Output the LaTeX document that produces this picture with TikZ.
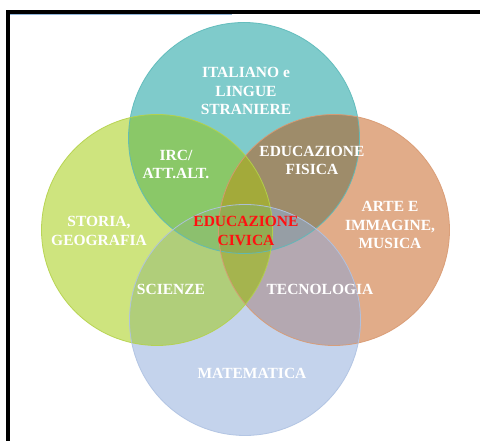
\documentclass[tikz,border=0pt]{standalone}
\usepackage{fontspec}
\setmainfont{Liberation Serif}
\definecolor{cT}{HTML}{7FCBCB}
\definecolor{cG}{HTML}{CEE47E}
\definecolor{cO}{HTML}{E1AC89}
\definecolor{cB}{HTML}{C4D3EC}
\definecolor{cTG}{HTML}{8AC868}
\definecolor{cTO}{HTML}{9E8C6A}
\definecolor{cTB}{HTML}{8FB8C8}
\definecolor{cGO}{HTML}{A0B44B}
\definecolor{cGB}{HTML}{B0CE7A}
\definecolor{cOB}{HTML}{B4A8B1}
\definecolor{cTGO}{HTML}{A3AA3A}
\definecolor{cTGB}{HTML}{8CC06E}
\definecolor{cTOB}{HTML}{969EA5}
\definecolor{cGOB}{HTML}{A5B44E}
\definecolor{cTGOB}{HTML}{93AC52}
\definecolor{eT}{HTML}{5CBABA}
\definecolor{eG}{HTML}{B4D24A}
\definecolor{eO}{HTML}{D99A72}
\definecolor{eB}{HTML}{AFC2E2}
\definecolor{topblue}{HTML}{8FB4D9}
\definecolor{civred}{HTML}{FF1010}
\def\pT{(244,303) circle (115.5)}
\def\pG{(157,211) circle (115.5)}
\def\pO{(334,211) circle (115.5)}
\def\pB{(245,121) circle (115.5)}
\tikzset{
  lbl/.style={text=white, font=\fontsize{15.5}{18.5}\selectfont\bfseries, align=center, inner sep=0pt},
  redlbl/.style={lbl, text=civred},
  edge/.style={line width=0.8pt, draw opacity=0.9}
}
\begin{document}
\begin{tikzpicture}[x=1pt,y=1pt]
\useasboundingbox (0,0) rectangle (480,441);
\fill[white] (0,0) rectangle (480,441);
% single circles
\fill[cT] \pT; \fill[cG] \pG; \fill[cO] \pO; \fill[cB] \pB;
% pairs
\begin{scope}\clip \pT; \fill[cTG] \pG; \end{scope}
\begin{scope}\clip \pT; \fill[cTO] \pO; \end{scope}
\begin{scope}\clip \pT; \fill[cTB] \pB; \end{scope}
\begin{scope}\clip \pG; \fill[cGO] \pO; \end{scope}
\begin{scope}\clip \pG; \fill[cGB] \pB; \end{scope}
\begin{scope}\clip \pO; \fill[cOB] \pB; \end{scope}
% triples
\begin{scope}\clip \pT; \clip \pG; \fill[cTGO] \pO; \end{scope}
\begin{scope}\clip \pT; \clip \pG; \fill[cTGB] \pB; \end{scope}
\begin{scope}\clip \pT; \clip \pO; \fill[cTOB] \pB; \end{scope}
\begin{scope}\clip \pG; \clip \pO; \fill[cGOB] \pB; \end{scope}
% quadruple
\begin{scope}\clip \pT; \clip \pG; \clip \pO; \fill[cTGOB] \pB; \end{scope}
% outlines
\draw[edge, eT] \pT;
\draw[edge, eO] \pO;
\draw[edge, eG] \pG;
\draw[edge, eB] \pB;
% frame
\fill[black] (6,0) rectangle (10,431);
\fill[black] (6,427) rectangle (480,431);
\draw[topblue, line width=1pt] (10,426.3) -- (232,426.3);
% labels
\node[lbl] (ita) at (246,350) {ITALIANO e\\LINGUE\\STRANIERE};
\node[lbl] (irc) at (176,276.5) {IRC/\\ATT.ALT.};
\node[lbl] (sto) at (99,210) {STORIA,\\GEOGRAFIA};
\node[lbl] (sci) at (171,152) {SCIENZE};
\node[lbl] (fis) at (312,280.5) {EDUCAZIONE\\FISICA};
\node[lbl] (art) at (390,216) {ARTE E\\IMMAGINE,\\MUSICA};
\node[lbl] (tec) at (320,152) {TECNOLOGIA};
\node[redlbl] (civ) at (246,210) {EDUCAZIONE\\CIVICA};
\node[lbl] (mat) at (252,68) {MATEMATICA};
\end{tikzpicture}
\end{document}
